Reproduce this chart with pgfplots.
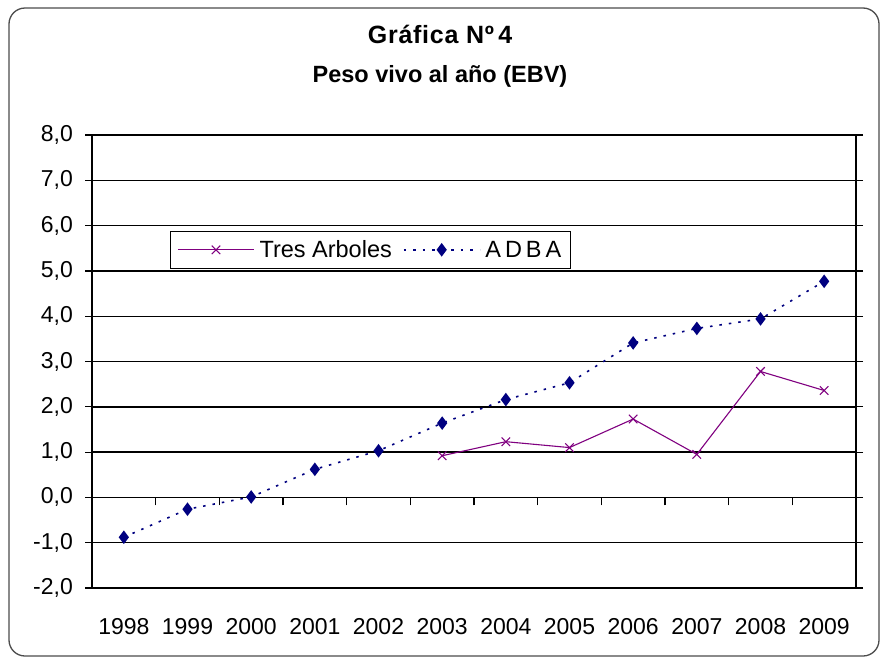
\documentclass[border=0pt]{standalone}
\usepackage{pgfplots}
\pgfplotsset{compat=1.18}
\usepackage{fontspec}
\setmainfont{Liberation Sans}
\definecolor{adba}{HTML}{000080}
\definecolor{tres}{HTML}{800080}
\begin{document}
\begin{tikzpicture}
\useasboundingbox (0pt,0pt) rectangle (880pt,-659pt);
\fill[white] (0pt,0pt) rectangle (880pt,-659pt);
\draw[color=black!70, line width=1.3pt, rounded corners=16pt] (9pt,-8pt) rectangle (879pt,-656pt);
\node[font=\fontsize{25}{30}\selectfont\bfseries\addfontfeatures{LetterSpace=3}, anchor=base] at (440pt,-43pt) {Gráfica Nº\,4};
\node[font=\fontsize{23.5}{27}\selectfont\bfseries, anchor=base] at (440pt,-82pt) {Peso vivo al año (EBV)};
\begin{axis}[
  scale only axis, width=764pt, height=453pt,
  anchor=south west, at={(92pt,-588pt)},
  xmin=-0.5, xmax=11.5, ymin=-2, ymax=8,
  xtick={0,...,11},
  xticklabels={1998,1999,2000,2001,2002,2003,2004,2005,2006,2007,2008,2009},
  ytick={-2,...,8},
  x tick style={draw=none},
  y tick style={black, line width=1.2pt},
  tick align=outside, major tick length=7pt,
  ymajorgrids, grid style={black, line width=1.4pt},
  axis line style={black, line width=1.4pt},
  /pgf/number format/.cd, fixed, fixed zerofill, precision=1, use comma, assume math mode=true,
  /pgfplots/.cd,
  ticklabel style={font=\fontsize{23}{27}\selectfont},
  yticklabel style={inner sep=0pt, xshift=-12pt},
  xticklabel style={yshift=-20pt},
  legend style={at={(0.102,0.788)}, anchor=north west, draw=black, line width=1pt,
    font=\fontsize{23.5}{27}\selectfont, inner xsep=7pt, inner ysep=7pt, row sep=0pt,
    /tikz/every odd column/.append style={column sep=3pt},
    /tikz/every even column/.append style={column sep=9pt}},
  legend columns=2,
  legend image code/.code={\draw[mark repeat=2,mark phase=2] plot coordinates {(0pt,0pt) (38pt,0pt) (76pt,0pt)};},
]
\addplot[color=tres, line width=1.1pt, mark=x, mark size=6pt, mark options={solid}]
  coordinates {(5,0.92) (6,1.23) (7,1.10) (8,1.73) (9,0.95) (10,2.78) (11,2.36)};
\addlegendentry{Tres Arboles}
\addplot[color=adba, line width=1.6pt, dash pattern=on 2.5pt off 7pt, mark=diamond*, mark size=5.5pt, mark options={solid}]
  coordinates {(0,-0.88) (1,-0.26) (2,0.01) (3,0.62) (4,1.03) (5,1.64) (6,2.16) (7,2.53) (8,3.41) (9,3.73) (10,3.94) (11,4.77)};
\addlegendentry{A\,D\,B\,A}
\end{axis}
\begin{axis}[
  scale only axis, width=764pt, height=453pt,
  anchor=south west, at={(92pt,-588pt)},
  xmin=-0.5, xmax=11.5, ymin=-2, ymax=8,
  axis x line=middle, axis y line=none,
  axis line style={-, draw=none},
  xtick={0.5,1.5,...,10.5}, xticklabels={},
  tick align=outside, major tick length=8pt,
  x tick style={black, line width=1.2pt},
]
\end{axis}
\end{tikzpicture}
\end{document}
